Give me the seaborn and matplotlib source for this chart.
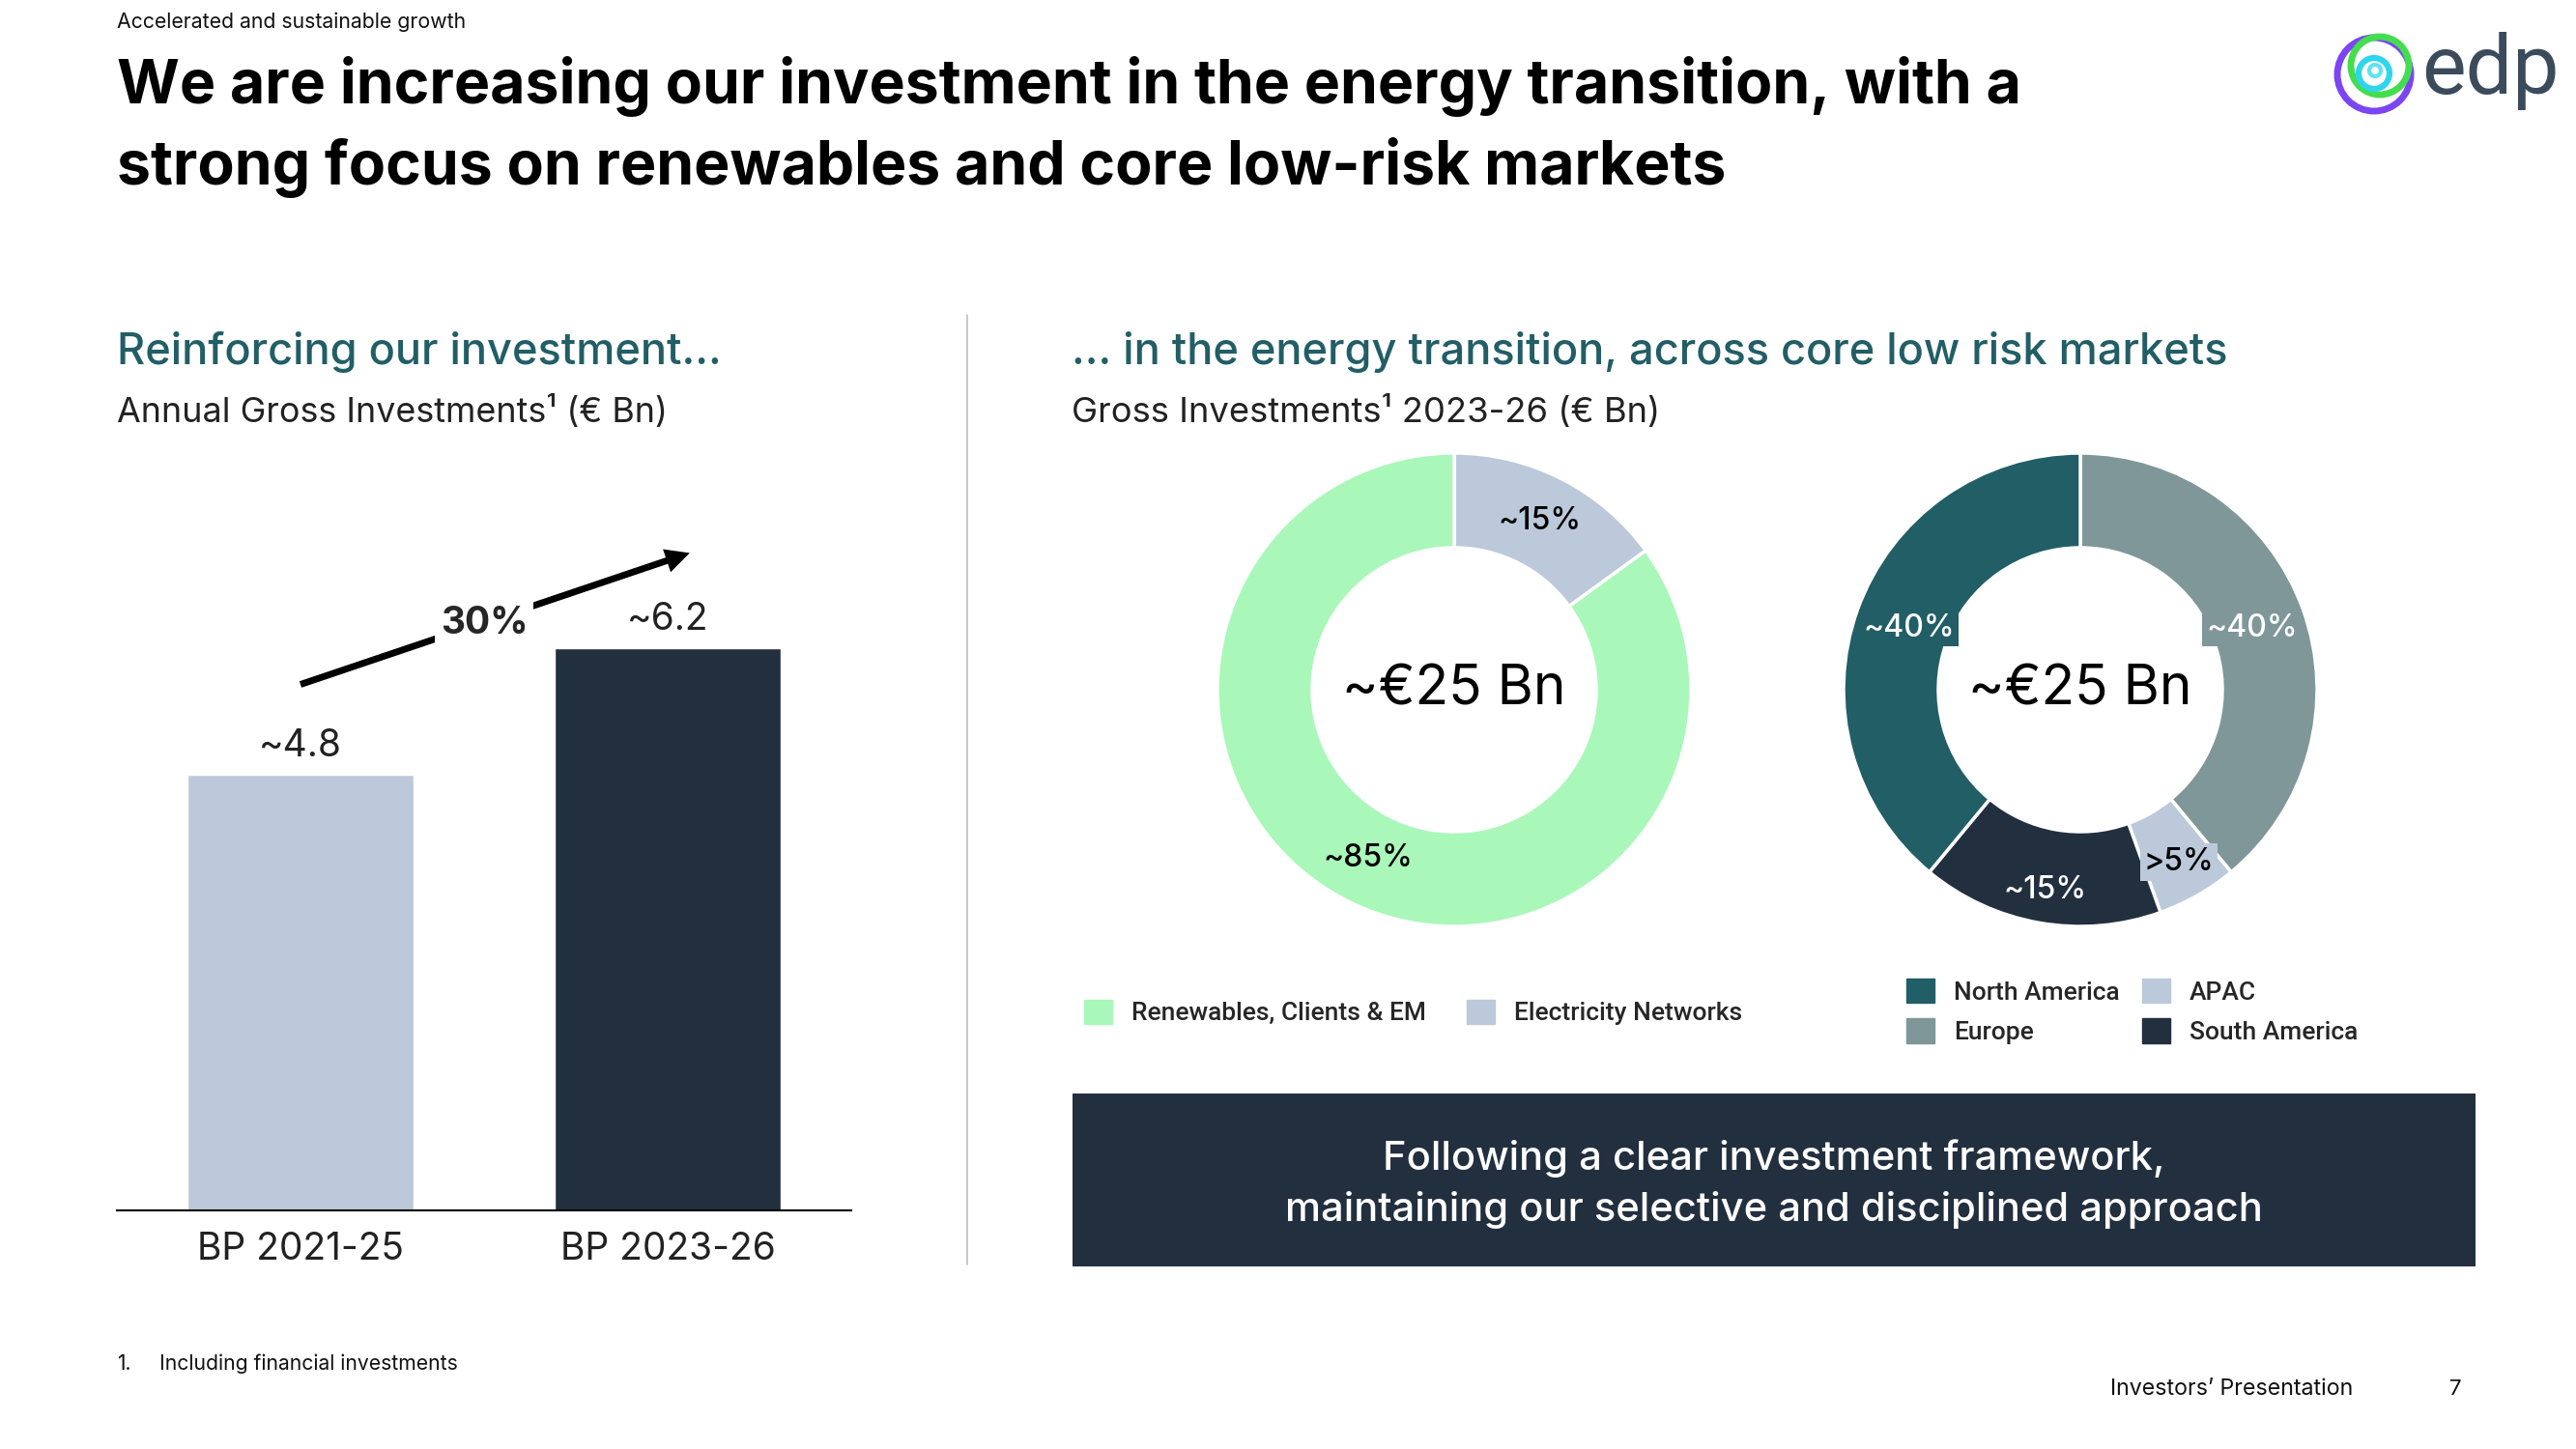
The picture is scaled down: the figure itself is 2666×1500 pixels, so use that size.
import numpy as np
import matplotlib.pyplot as plt
from matplotlib.patches import Patch, Rectangle, Circle
import seaborn as sns

# left panel: annual gross investments (EUR Bn)
periods = ["BP 2021-25", "BP 2023-26"]
investments = [4.8, 6.2]
investment_labels = ["~4.8", "~6.2"]
growth_label = "30%"

# right panel: gross investments 2023-26 split
segments = ["Electricity Networks", "Renewables, Clients & EM"]
segment_share = [15, 85]
segment_labels = ["~15%", "~85%"]
regions = ["Europe", "APAC", "South America", "North America"]
region_share = [39, 5.5, 16.5, 39]
region_labels = ["~40%", ">5%", "~15%", "~40%"]
total_label = "~€25 Bn"

GREEN = "#AAF7BA"
GREY_BLUE = "#BCC9DA"
NAVY = "#222F3E"
TEAL = "#225E66"
SLATE = "#7F9799"

W, H = 2666, 1500

sns.set_theme(style="white")
plt.rcParams["font.family"] = ["Inter", "DejaVu Sans"]

fig = plt.figure(figsize=(W / 100, H / 100), dpi=100)
fig.patch.set_facecolor("white")


def fx(x):
    return x / W


def fy(y):
    return 1 - y / H


# background layer in pixel coords for decorations
bg = fig.add_axes([0, 0, 1, 1], zorder=-1)
bg.set_xlim(0, W)
bg.set_ylim(H, 0)
bg.axis("off")
bg.plot([1001, 1001], [326, 1309], color="#BFBFBF", lw=1.2)
bg.add_patch(Rectangle((1110, 1132), 1452, 179, color=NAVY, lw=0))

# logo
bg.add_patch(Circle((2457, 77), 38, fill=False, ec="#7B45F2", lw=5))
bg.add_patch(Circle((2463, 68), 30, fill=False, ec="#44DD4E", lw=5))
bg.add_patch(Circle((2457, 76), 16, fill=False, ec="#2ED6EC", lw=4.5))
bg.add_patch(Circle((2458, 73), 6, fill=False, ec="#5FE3F2", lw=3))
fig.text(fx(2506), fy(97), "edp", fontsize=62, color="#3C4B5C",
         family=["Roboto", "DejaVu Sans"], va="baseline")

# header texts
fig.text(fx(121), fy(29), "Accelerated and sustainable growth", fontsize=15.3,
         color="#111111", va="baseline")
fig.text(fx(121), fy(107), "We are increasing our investment in the energy transition, with a",
         fontsize=45, fontweight="bold", color="black", va="baseline")
fig.text(fx(121), fy(191), "strong focus on renewables and core low-risk markets",
         fontsize=45, fontweight="bold", color="black", va="baseline")

fig.text(fx(121), fy(377), "Reinforcing our investment...", fontsize=32.5,
         fontweight="medium", color=TEAL, va="baseline")
fig.text(fx(121), fy(437), "Annual Gross Investments¹ (€ Bn)", fontsize=25.8,
         color="#222222", va="baseline")
fig.text(fx(1109), fy(377), "... in the energy transition, across core low risk markets",
         fontsize=32.5, fontweight="medium", color=TEAL, va="baseline")
fig.text(fx(1109), fy(437), "Gross Investments¹ 2023-26 (€ Bn)", fontsize=26.2,
         color="#222222", va="baseline")

# bar chart
ax = fig.add_axes([fx(121), fy(1253), 760 / W, 751 / H])
sns.barplot(x=periods, y=investments, hue=periods, palette=[GREY_BLUE, NAVY],
            width=0.614, saturation=1, legend=False, ax=ax)
for cont, lab in zip(ax.containers, investment_labels):
    ax.bar_label(cont, labels=[lab], padding=8, fontsize=28, color="#222222")
ax.set_xlim(-0.5, 1.5)
ax.set_ylim(0, 8)
ax.set_yticks([])
ax.set_xlabel("")
ax.set_ylabel("")
ax.tick_params(axis="x", length=0, pad=16, labelsize=28, labelcolor="#222222")
sns.despine(ax=ax, left=True)
ax.spines["bottom"].set_color("black")
ax.spines["bottom"].set_linewidth(1.5)
ax.patch.set_alpha(0)

ax.annotate("", xy=(1.06, 7.25), xytext=(0.0, 5.8), annotation_clip=False,
            arrowprops=dict(arrowstyle="simple,head_length=1.8,head_width=1.8,tail_width=0.5",
                            mutation_scale=10, color="black", lw=0,
                            shrinkA=0, shrinkB=0))
ax.text(0.5, 6.47, growth_label, fontsize=28, fontweight="bold", ha="center",
        va="center", zorder=5,
        bbox=dict(boxstyle="square,pad=0.15", fc="white", ec="none"))


def donut(cx, cy, values, colors, labels, label_colors, label_r, boxed):
    r = 245
    size = 2.5 * r
    dax = fig.add_axes([fx(cx - size / 2), fy(cy + size / 2), size / W, size / H])
    wedges, _ = dax.pie(values, colors=colors, startangle=90, counterclock=False,
                        radius=1, wedgeprops=dict(width=0.4, edgecolor="white", linewidth=2.5))
    dax.set_xlim(-1.25, 1.25)
    dax.set_ylim(-1.25, 1.25)
    dax.set_aspect("equal")
    for w, lab, tc, lr in zip(wedges, labels, label_colors, label_r):
        ang = np.deg2rad((w.theta1 + w.theta2) / 2)
        bbox = None
        if boxed:
            bbox = dict(boxstyle="square,pad=0.12", fc=w.get_facecolor(), ec="none")
        dax.text(lr * np.cos(ang), lr * np.sin(ang), lab, ha="center", va="center",
                 fontsize=23, fontweight="medium", color=tc, bbox=bbox)
    dax.text(0, 0, total_label, ha="center", va="center", fontsize=41, color="black")
    return dax


donut(1505, 714, segment_share, [GREY_BLUE, GREEN], segment_labels,
      ["black", "black"], [0.8, 0.8], False)
donut(2153, 714, region_share, [SLATE, GREY_BLUE, NAVY, TEAL], region_labels,
      ["white", "black", "white", "white"], [0.77, 0.84, 0.86, 0.77], True)

# legends
leg_font = dict(family=["Roboto", "DejaVu Sans"], size=19, weight="medium")
h1 = [Patch(color=GREEN), Patch(color=GREY_BLUE)]
fig.legend(h1, [segments[1], segments[0]], loc="center left",
           bbox_to_anchor=(fx(1122), fy(1048)), ncol=2, frameon=False, prop=leg_font,
           handlelength=1.1, handleheight=1.1, handletextpad=0.75, columnspacing=1.6,
           borderpad=0, borderaxespad=0)
region_colors = {"Europe": SLATE, "APAC": GREY_BLUE, "South America": NAVY,
                 "North America": TEAL}
order = ["North America", "Europe", "APAC", "South America"]
h2 = [Patch(color=region_colors[k]) for k in order]
fig.legend(h2, order, loc="center left", bbox_to_anchor=(fx(1973), fy(1047)), ncol=2,
           frameon=False, prop=leg_font, handlelength=1.1, handleheight=1.1,
           handletextpad=0.75, columnspacing=0.9, labelspacing=0.55,
           borderpad=0, borderaxespad=0)

# message box
fig.text(fx(1836), fy(1199), "Following a clear investment framework,", fontsize=30,
         fontweight="medium", color="white", ha="center", va="center")
fig.text(fx(1836), fy(1253), "maintaining our selective and disciplined approach", fontsize=30,
         fontweight="medium", color="white", ha="center", va="center")

# footer
fig.text(fx(121), fy(1418), "1.", fontsize=15, color="#111111", va="baseline")
fig.text(fx(165), fy(1418), "Including financial investments", fontsize=15.2,
         color="#111111", va="baseline")
fig.text(fx(2435), fy(1444), "Investors’ Presentation", fontsize=16.7, color="#111111",
         ha="right", va="baseline")
fig.text(fx(2548), fy(1444), "7", fontsize=16, color="#111111", ha="right", va="baseline")

fig.savefig("out.png", dpi=100)
